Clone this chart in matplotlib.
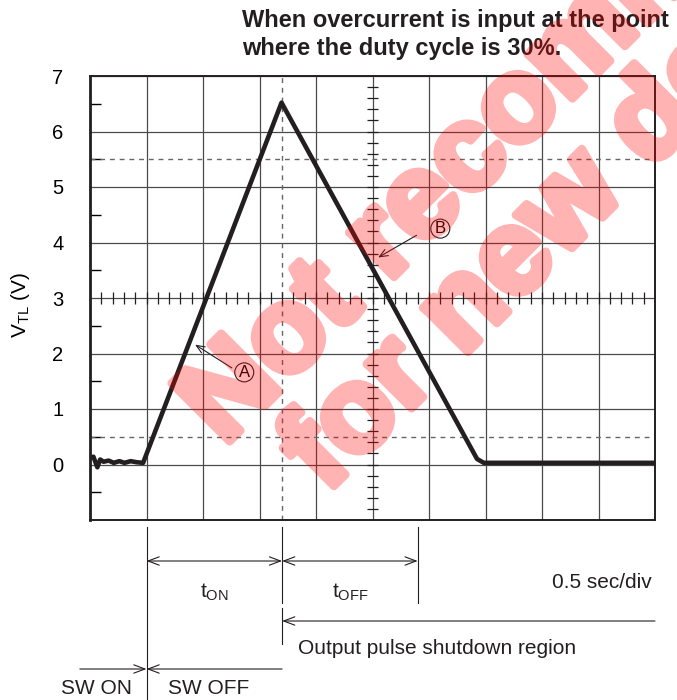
"""Oscilloscope-style V_TL trace for an overcurrent event at 30 % duty cycle."""

import matplotlib

matplotlib.use("Agg")
import matplotlib.patheffects as pe
import matplotlib.pyplot as plt
import matplotlib.transforms as mtransforms
import numpy as np

plt.rcParams["font.family"] = "Liberation Sans"
plt.rcParams["mathtext.fontset"] = "custom"
plt.rcParams["mathtext.rm"] = "Liberation Sans"

# V_TL trace: x in divisions (0.5 sec/div), y in volts
trace_x = [0.0, 0.06, 0.13, 0.18, 0.24, 0.33, 0.42, 0.52, 0.61, 0.72, 0.83, 0.94,
           3.39, 6.85, 6.97, 10.0]
trace_y = [0.12, 0.14, -0.05, 0.09, 0.05, 0.07, 0.03, 0.06, 0.03, 0.06, 0.04, 0.03,
           6.52, 0.10, 0.03, 0.03]

y_ticks = [0, 1, 2, 3, 4, 5, 6, 7]
y_minor = [-0.5, 0.5, 1.5, 2.5, 3.5, 4.5, 5.5, 6.5]
dashed_levels = [0.5, 5.5]

# event times, in divisions
sw_off_x = 1.0
shutdown_x = 3.4
t_off_end_x = 5.8

title_lines = ["When overcurrent is input at the point",
               "where the duty cycle is 30%."]
watermark_lines = ["Not recommended", "for new designs"]

W, H = 677, 700
WM_ALPHA = 0.3


def fy(py):
    """Figure fraction from a pixel row counted from the top."""
    return 1 - py / H


def fade(img, dpi):
    # apply one alpha to the whole watermark so stroke and fill don't stack
    img = img.copy()
    img[..., 3] *= WM_ALPHA
    return img, 0, 0


fig = plt.figure(figsize=(W / 100, H / 100), dpi=100)
ax = fig.add_axes([90 / W, 180 / H, 565 / W, 444 / H])
ax.set_xlim(0, 10)
ax.set_ylim(-1, 7)

ax.set_xticks(range(11))
ax.set_xticklabels([])
ax.tick_params(axis="x", length=0)
ax.set_yticks(y_ticks)
ax.set_yticklabels([str(v) for v in y_ticks])
ax.set_yticks(y_minor, minor=True)
ax.tick_params(axis="y", which="major", length=0, pad=19, labelsize=14.5)
ax.tick_params(axis="y", which="minor", direction="in", length=8, width=1, color="black")

ax.grid(True, which="major", color="#4a4a4a", lw=0.9)
ax.set_axisbelow(True)
for side, spine in ax.spines.items():
    spine.set_linewidth(2.0 if side == "left" else 1.4)
    spine.set_color("#231f20")
    spine.set_zorder(4)

# dashed cursors
for lvl in dashed_levels:
    ax.axhline(lvl, color="#666666", lw=1.0, ls=(0, (3.5, 3.5)), zorder=1)
ax.axvline(shutdown_x, color="#666666", lw=1.0, ls=(0, (3.5, 3.5)), zorder=1)

# graticule centre ticks
ys = np.linspace(-0.8, 6.8, 39)
ax.hlines(ys, 5 - 0.09, 5 + 0.09, color="#231f20", lw=0.9, zorder=2)
xs = np.linspace(0.2, 9.8, 49)
ax.vlines(xs, 3 - 0.11, 3 + 0.11, color="#231f20", lw=0.9, zorder=2)

ax.plot(trace_x, trace_y, color="#231f20", lw=3.3, solid_joinstyle="round",
        solid_capstyle="round", zorder=5)

ax.set_ylabel(r"$\mathregular{V_{TL}}$ (V)", fontsize=15)
ax.yaxis.set_label_coords(-0.103, 0.485)

# callouts A and B
thin_arrow = dict(arrowstyle="->,head_length=0.6,head_width=0.25", lw=0.8,
                  color="#231f20", shrinkA=0, shrinkB=0)
ax.annotate("", xy=(1.86, 2.16), xytext=(2.51, 1.74), arrowprops=thin_arrow)
ax.annotate("", xy=(5.10, 3.73), xytext=(5.78, 4.13), arrowprops=thin_arrow)
circle = dict(boxstyle="circle,pad=0.12", fc="white", ec="#231f20", lw=0.8)
ax.text(2.73, 1.66, "A", ha="center", va="center", fontsize=12, bbox=circle, zorder=6)
ax.text(6.20, 4.25, "B", ha="center", va="center", fontsize=12, bbox=circle, zorder=6)

# timing annotations under the graticule
trans = mtransforms.blended_transform_factory(ax.transData, fig.transFigure)
line_kw = dict(color="#231f20", lw=0.8, transform=trans, clip_on=False)
ax.plot([sw_off_x, sw_off_x], [fy(527), 0], **line_kw)
ax.plot([shutdown_x, shutdown_x], [fy(527), fy(603)], **line_kw)
ax.plot([t_off_end_x, t_off_end_x], [fy(527), fy(603)], **line_kw)
ax.plot([shutdown_x, shutdown_x], [fy(608), fy(644)], **line_kw)

dim_arrow = dict(arrowstyle="<->,head_length=0.8,head_width=0.3", lw=0.8,
                 color="#231f20", shrinkA=0, shrinkB=0)
one_arrow = dict(dim_arrow, arrowstyle="->,head_length=0.8,head_width=0.3")
ann_kw = dict(xycoords=trans, textcoords=trans, annotation_clip=False)
ax.annotate("", xy=(sw_off_x, fy(561)), xytext=(shutdown_x, fy(561)),
            arrowprops=dim_arrow, **ann_kw)
ax.annotate("", xy=(shutdown_x, fy(561)), xytext=(t_off_end_x, fy(561)),
            arrowprops=dim_arrow, **ann_kw)
ax.annotate("", xy=(shutdown_x, fy(621)), xytext=(10.0, fy(621)),
            arrowprops=one_arrow, **ann_kw)
ax.annotate("", xy=(sw_off_x, fy(669)), xytext=(-0.18, fy(669)),
            arrowprops=one_arrow, **ann_kw)
ax.annotate("", xy=(sw_off_x, fy(669)), xytext=(shutdown_x, fy(669)),
            arrowprops=one_arrow, **ann_kw)

text_kw = dict(transform=trans, fontsize=15, color="#231f20", va="center")
ax.text((sw_off_x + shutdown_x) / 2, fy(592), r"$\mathregular{t_{ON}}$", ha="center", **text_kw)
ax.text((shutdown_x + t_off_end_x) / 2, fy(592), r"$\mathregular{t_{OFF}}$", ha="center", **text_kw)
ax.text(9.95, fy(583), "0.5 sec/div", ha="right", **text_kw)
ax.text(3.68, fy(648), "Output pulse shutdown region", ha="left", **text_kw)
ax.text(0.12, fy(688), "SW ON", ha="center", **text_kw)
ax.text(1.38, fy(688), "SW OFF", ha="left", **text_kw)

fig.text(242 / W, fy(26.5), title_lines[0], fontsize=17, fontweight="bold", color="#231f20")
fig.text(242 / W, fy(55), title_lines[1], fontsize=17, fontweight="bold", color="#231f20")

# watermark on top of everything
wm_kw = dict(rotation=45, rotation_mode="anchor", ha="left", va="baseline",
             fontsize=86, fontweight="bold", color="red", zorder=20,
             path_effects=[pe.withStroke(linewidth=6, foreground="red")])
for (px, py), line in zip([(224, 447), (326, 494)], watermark_lines):
    wm = fig.text(px / W, fy(py), line, **wm_kw)
    wm.set_agg_filter(fade)

fig.savefig("out.png", dpi=100)
